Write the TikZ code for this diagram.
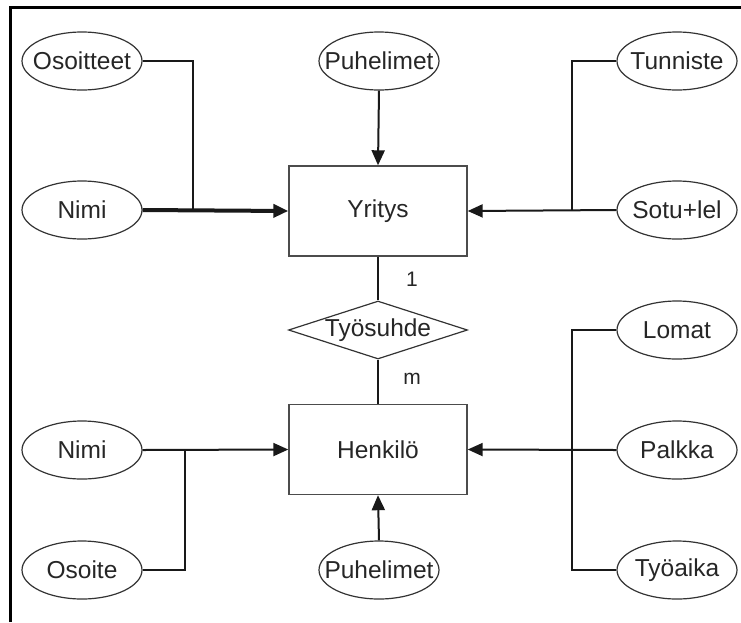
\documentclass[tikz,border=0pt]{standalone}
\usepackage{fontspec}
\setmainfont{Liberation Sans}
\usetikzlibrary{shapes.geometric,arrows.meta}
\newcommand{\lbl}[1]{\makebox[0pt][c]{#1}}
\begin{document}
\begin{tikzpicture}[x=1pt,y=-1pt,
  txt/.style={text=black!85,font=\fontsize{24.5}{28}\selectfont},
  attr/.style={txt,ellipse,draw=black!80,line width=1.2pt,minimum width=120pt,minimum height=58pt,inner sep=0pt},
  entity/.style={txt,rectangle,draw=black!70,line width=1.4pt,minimum width=178pt,minimum height=90pt,inner sep=0pt},
  rel/.style={txt,diamond,draw=black!80,line width=1.2pt,minimum width=179pt,minimum height=58pt,inner sep=0pt},
  card/.style={text=black!85,font=\fontsize{21}{24}\selectfont,inner sep=0pt},
  link/.style={line width=2pt,draw=black!90},
  arr/.style={link,-{Triangle[length=15pt,width=13pt]}},
  frame/.style={line width=3pt,draw=black}
]
\useasboundingbox (0,0) rectangle (741,622);
% outer frame: left and top edges
\draw[frame] (10,622) -- (10,7) -- (741,7);

% entities and relationship
\node[entity] (yritys) at (378,211) {Yritys};
\node[entity] (henkilo) at (378,449.5) {Henkilö};
\node[rel] (tyosuhde) at (378,330) {\lbl{Työsuhde}};

% attributes of Yritys
\node[attr] (osoitteet) at (82,61) {\lbl{Osoitteet}};
\node[attr] (nimiY) at (82,210) {\lbl{Nimi}};
\node[attr] (puhY) at (379,61) {\lbl{Puhelimet}};
\node[attr] (tunniste) at (677,61) {\lbl{Tunniste}};
\node[attr] (sotu) at (677,210) {\lbl{Sotu+lel}};

% attributes of Henkilö
\node[attr] (nimiH) at (82,450) {\lbl{Nimi}};
\node[attr] (osoite) at (82,570) {\lbl{Osoite}};
\node[attr] (puhH) at (379,570) {\lbl{Puhelimet}};
\node[attr] (lomat) at (677,330) {\lbl{Lomat}};
\node[attr] (palkka) at (677,450) {\lbl{Palkka}};
\node[attr] (tyoaika) at (677,570) {\lbl{Työaika}};

% cardinalities
\node[card] (c1) at (412,279) {1};
\node[card] (cm) at (412,379) {m};

% junction points
\coordinate (jYl) at (193,210);
\coordinate (jYr) at (572,210);
\coordinate (jHl) at (185,450);
\coordinate (jHr) at (572,450);

% Yritys connectors
\draw[link] (osoitteet.east) -| (jYl);
\draw[arr,line width=4pt] (nimiY.east) -- (yritys.west);
\draw[arr] (puhY.south) -- (yritys.north);
\draw[link] (tunniste.west) -| (jYr);
\draw[arr] (sotu.west) -- (yritys.east);

% relationship connectors
\draw[link] (yritys.south) -- (tyosuhde.north);
\draw[link] (tyosuhde.south) -- (henkilo.north);

% Henkilö connectors
\draw[arr] (nimiH.east) -- (henkilo.west);
\draw[link] (osoite.east) -| (jHl);
\draw[arr] (puhH.north) -- (henkilo.south);
\draw[link] (lomat.west) -| (jHr);
\draw[link] (tyoaika.west) -| (jHr);
\draw[arr] (palkka.west) -- (henkilo.east);
\end{tikzpicture}
\end{document}
